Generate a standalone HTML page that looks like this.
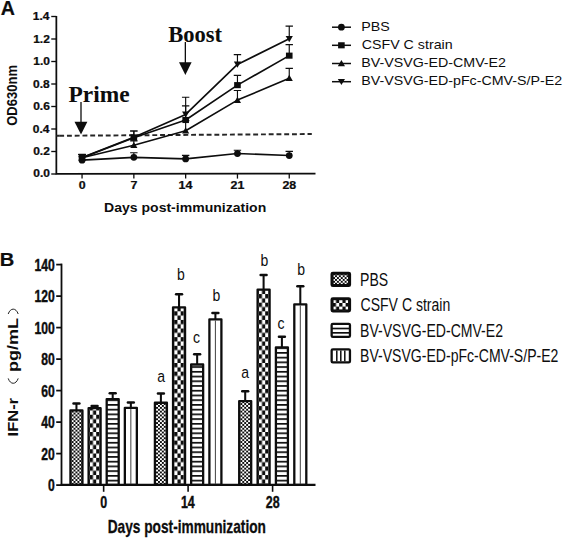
<!DOCTYPE html><html><head><meta charset="utf-8"><title>Figure</title><style>
html,body{margin:0;padding:0;background:#fff;}
svg{display:block;position:absolute;left:0;top:0;}
text{font-family:"Liberation Sans",sans-serif;fill:#0d0d0d;}
.b{font-weight:bold;}
.s{font-family:"Liberation Serif",serif;font-weight:bold;}
</style></head><body>
<svg width="567" height="539" viewBox="0 0 567 539">
<rect width="567" height="539" fill="#fff"/>
<defs><pattern id="q1" x="71.60" y="484.80" width="3.880" height="3.8" patternUnits="userSpaceOnUse"><rect width="3.880" height="3.8" fill="#0d0d0d"/><rect x="0" y="0" width="1.940" height="1.9" fill="#fff"/><rect x="1.940" y="1.9" width="1.940" height="1.9" fill="#fff"/></pattern><pattern id="q2" x="89.75" y="483.70" width="6.467" height="8.62" patternUnits="userSpaceOnUse"><rect width="6.467" height="8.62" fill="#fff"/><rect x="0" y="0" width="3.233" height="4.31" fill="#0d0d0d"/><rect x="3.233" y="4.31" width="3.233" height="4.31" fill="#0d0d0d"/></pattern><pattern id="q3" x="107.85" y="484.45" width="9.70" height="4.73" patternUnits="userSpaceOnUse"><rect width="9.70" height="4.73" fill="#fff"/><rect x="0" y="0" width="9.70" height="1.7" fill="#0d0d0d"/></pattern><pattern id="q4" x="156.05" y="484.80" width="3.880" height="3.8" patternUnits="userSpaceOnUse"><rect width="3.880" height="3.8" fill="#0d0d0d"/><rect x="0" y="0" width="1.940" height="1.9" fill="#fff"/><rect x="1.940" y="1.9" width="1.940" height="1.9" fill="#fff"/></pattern><pattern id="q5" x="174.20" y="483.70" width="6.467" height="8.62" patternUnits="userSpaceOnUse"><rect width="6.467" height="8.62" fill="#fff"/><rect x="0" y="0" width="3.233" height="4.31" fill="#0d0d0d"/><rect x="3.233" y="4.31" width="3.233" height="4.31" fill="#0d0d0d"/></pattern><pattern id="q6" x="192.30" y="484.45" width="9.70" height="4.73" patternUnits="userSpaceOnUse"><rect width="9.70" height="4.73" fill="#fff"/><rect x="0" y="0" width="9.70" height="1.7" fill="#0d0d0d"/></pattern><pattern id="q7" x="240.35" y="484.80" width="3.880" height="3.8" patternUnits="userSpaceOnUse"><rect width="3.880" height="3.8" fill="#0d0d0d"/><rect x="0" y="0" width="1.940" height="1.9" fill="#fff"/><rect x="1.940" y="1.9" width="1.940" height="1.9" fill="#fff"/></pattern><pattern id="q8" x="258.75" y="483.70" width="6.467" height="8.62" patternUnits="userSpaceOnUse"><rect width="6.467" height="8.62" fill="#fff"/><rect x="0" y="0" width="3.233" height="4.31" fill="#0d0d0d"/><rect x="3.233" y="4.31" width="3.233" height="4.31" fill="#0d0d0d"/></pattern><pattern id="q9" x="277.05" y="484.45" width="9.70" height="4.73" patternUnits="userSpaceOnUse"><rect width="9.70" height="4.73" fill="#fff"/><rect x="0" y="0" width="9.70" height="1.7" fill="#0d0d0d"/></pattern><pattern id="q10" x="333.10" y="275.25" width="3.850" height="3.74" patternUnits="userSpaceOnUse"><rect width="3.850" height="3.74" fill="#0d0d0d"/><rect x="0" y="0" width="1.925" height="1.87" fill="#fff"/><rect x="1.925" y="1.87" width="1.925" height="1.87" fill="#fff"/></pattern><pattern id="q11" x="332.80" y="303.02" width="6.400" height="7.133333333333333" patternUnits="userSpaceOnUse"><rect width="6.400" height="7.133333333333333" fill="#fff"/><rect x="0" y="0" width="3.200" height="3.5666666666666664" fill="#0d0d0d"/><rect x="3.200" y="3.5666666666666664" width="3.200" height="3.5666666666666664" fill="#0d0d0d"/></pattern><pattern id="q12" x="332.80" y="327.65" width="16.00" height="4.3" patternUnits="userSpaceOnUse"><rect width="16.00" height="4.3" fill="#fff"/><rect x="0" y="0" width="16.00" height="1.7" fill="#0d0d0d"/></pattern></defs>
<text class="b" stroke="#0d0d0d" stroke-width="0.2" transform="translate(0.73 14.85) scale(1.0125 1)" font-size="19.4">A</text>
<path d="M56.35 15.90V173.95L315.5 173.55" fill="none" stroke="#0d0d0d" stroke-width="1.75" stroke-linejoin="miter"/>
<path d="M51.25 174.00H56.35" stroke="#0d0d0d" stroke-width="1.35"/>
<text class="b" stroke="#0d0d0d" stroke-width="0.25" transform="translate(33.22 177.30) scale(1.1200 1)" font-size="10.7">0.0</text>
<path d="M51.25 151.50H56.35" stroke="#0d0d0d" stroke-width="1.35"/>
<text class="b" stroke="#0d0d0d" stroke-width="0.25" transform="translate(33.21 155.45) scale(1.1200 1)" font-size="10.7">0.2</text>
<path d="M51.25 129.00H56.35" stroke="#0d0d0d" stroke-width="1.35"/>
<text class="b" stroke="#0d0d0d" stroke-width="0.25" transform="translate(32.80 132.95) scale(1.1200 1)" font-size="10.7">0.4</text>
<path d="M51.25 106.50H56.35" stroke="#0d0d0d" stroke-width="1.35"/>
<text class="b" stroke="#0d0d0d" stroke-width="0.25" transform="translate(33.16 110.45) scale(1.1200 1)" font-size="10.7">0.6</text>
<path d="M51.25 84.00H56.35" stroke="#0d0d0d" stroke-width="1.35"/>
<text class="b" stroke="#0d0d0d" stroke-width="0.25" transform="translate(33.10 87.95) scale(1.1200 1)" font-size="10.7">0.8</text>
<path d="M51.25 61.50H56.35" stroke="#0d0d0d" stroke-width="1.35"/>
<text class="b" stroke="#0d0d0d" stroke-width="0.25" transform="translate(33.22 65.45) scale(1.1200 1)" font-size="10.7">1.0</text>
<path d="M51.25 39.00H56.35" stroke="#0d0d0d" stroke-width="1.35"/>
<text class="b" stroke="#0d0d0d" stroke-width="0.25" transform="translate(33.21 42.95) scale(1.1200 1)" font-size="10.7">1.2</text>
<path d="M51.25 16.50H56.35" stroke="#0d0d0d" stroke-width="1.35"/>
<text class="b" stroke="#0d0d0d" stroke-width="0.25" transform="translate(32.80 20.45) scale(1.1200 1)" font-size="10.7">1.4</text>
<path d="M82.05 174.0V178.6" stroke="#0d0d0d" stroke-width="1.3"/>
<text class="b" stroke="#0d0d0d" stroke-width="0.25" transform="translate(78.70 189.30) scale(1.1500 1)" font-size="10.8">0</text>
<path d="M133.85 174.0V178.6" stroke="#0d0d0d" stroke-width="1.3"/>
<text class="b" stroke="#0d0d0d" stroke-width="0.25" transform="translate(130.50 189.30) scale(1.1500 1)" font-size="10.8">7</text>
<path d="M185.65 174.0V178.6" stroke="#0d0d0d" stroke-width="1.3"/>
<text class="b" stroke="#0d0d0d" stroke-width="0.25" transform="translate(178.49 189.30) scale(1.1500 1)" font-size="10.8">14</text>
<path d="M237.45 174.0V178.6" stroke="#0d0d0d" stroke-width="1.3"/>
<text class="b" stroke="#0d0d0d" stroke-width="0.25" transform="translate(230.60 189.30) scale(1.1500 1)" font-size="10.8">21</text>
<path d="M289.25 174.0V178.6" stroke="#0d0d0d" stroke-width="1.3"/>
<text class="b" stroke="#0d0d0d" stroke-width="0.25" transform="translate(282.42 189.30) scale(1.1500 1)" font-size="10.8">28</text>
<text class="b" transform="translate(104.07 211.80) scale(1.1058 1)" font-size="12.7">Days post-immunization</text>
<text class="b" transform="translate(16.95 0) rotate(-90) translate(-125.83 0) scale(0.9308 1)" font-size="14.0">OD630nm</text>
<path d="M56.35 135.8L311.8 134.05" stroke="#262626" stroke-width="1.95" stroke-dasharray="4.9 2.86" stroke-dashoffset="-2.85" fill="none"/>
<path d="M56.35 135.8L59.3 135.78" stroke="#262626" stroke-width="1.95" fill="none"/>
<polyline points="82.05,160.16 133.85,157.35 185.65,158.93 237.45,153.53 289.25,155.55" fill="none" stroke="#0d0d0d" stroke-width="1.65" stroke-linejoin="round"/>
<path d="M82.05 160.16V156.79M78.35 156.79H85.75" stroke="#0d0d0d" stroke-width="1.15" fill="none"/>
<path d="M133.85 157.35V152.74M130.15 152.74H137.55" stroke="#0d0d0d" stroke-width="1.15" fill="none"/>
<path d="M185.65 158.93V155.44M181.95 155.44H189.35" stroke="#0d0d0d" stroke-width="1.15" fill="none"/>
<path d="M237.45 153.53V150.26M233.75 150.26H241.15" stroke="#0d0d0d" stroke-width="1.15" fill="none"/>
<path d="M289.25 155.55V151.39M285.55 151.39H292.95" stroke="#0d0d0d" stroke-width="1.15" fill="none"/>
<circle cx="82.05" cy="160.16" r="3.4" fill="#0d0d0d"/>
<circle cx="133.85" cy="157.35" r="3.4" fill="#0d0d0d"/>
<circle cx="185.65" cy="158.93" r="3.4" fill="#0d0d0d"/>
<circle cx="237.45" cy="153.53" r="3.4" fill="#0d0d0d"/>
<circle cx="289.25" cy="155.55" r="3.4" fill="#0d0d0d"/>
<polyline points="82.05,157.69 133.85,145.31 185.65,130.69 237.45,100.09 289.25,78.26" fill="none" stroke="#0d0d0d" stroke-width="1.65" stroke-linejoin="round"/>
<path d="M82.05 157.69V154.54M78.35 154.54H85.75" stroke="#0d0d0d" stroke-width="1.15" fill="none"/>
<path d="M133.85 145.31V140.81M130.15 140.81H137.55" stroke="#0d0d0d" stroke-width="1.15" fill="none"/>
<path d="M185.65 130.69V120.56M181.95 120.56H189.35" stroke="#0d0d0d" stroke-width="1.15" fill="none"/>
<path d="M237.45 100.09V90.53M233.75 90.53H241.15" stroke="#0d0d0d" stroke-width="1.15" fill="none"/>
<path d="M289.25 78.26V68.36M285.55 68.36H292.95" stroke="#0d0d0d" stroke-width="1.15" fill="none"/>
<path d="M78.45 160.49H85.65L82.05 154.29Z" fill="#0d0d0d"/>
<path d="M130.25 148.11H137.45L133.85 141.91Z" fill="#0d0d0d"/>
<path d="M182.05 133.49H189.25L185.65 127.29Z" fill="#0d0d0d"/>
<path d="M233.85 102.89H241.05L237.45 96.69Z" fill="#0d0d0d"/>
<path d="M285.65 81.06H292.85L289.25 74.86Z" fill="#0d0d0d"/>
<polyline points="82.05,157.69 133.85,137.78 185.65,120.00 237.45,85.12 289.25,55.65" fill="none" stroke="#0d0d0d" stroke-width="1.65" stroke-linejoin="round"/>
<path d="M82.05 157.69V154.54M78.35 154.54H85.75" stroke="#0d0d0d" stroke-width="1.15" fill="none"/>
<path d="M133.85 137.78V131.03M130.15 131.03H137.55" stroke="#0d0d0d" stroke-width="1.15" fill="none"/>
<path d="M185.65 120.00V105.94M181.95 105.94H189.35" stroke="#0d0d0d" stroke-width="1.15" fill="none"/>
<path d="M237.45 85.12V75.34M233.75 75.34H241.15" stroke="#0d0d0d" stroke-width="1.15" fill="none"/>
<path d="M289.25 55.65V44.62M285.55 44.62H292.95" stroke="#0d0d0d" stroke-width="1.15" fill="none"/>
<rect x="78.75" y="154.64" width="6.6" height="6.1" fill="#0d0d0d"/>
<rect x="130.55" y="134.72" width="6.6" height="6.1" fill="#0d0d0d"/>
<rect x="182.35" y="116.95" width="6.6" height="6.1" fill="#0d0d0d"/>
<rect x="234.15" y="82.08" width="6.6" height="6.1" fill="#0d0d0d"/>
<rect x="285.95" y="52.60" width="6.6" height="6.1" fill="#0d0d0d"/>
<polyline points="82.05,157.57 133.85,137.21 185.65,114.38 237.45,64.42 289.25,38.78" fill="none" stroke="#0d0d0d" stroke-width="1.65" stroke-linejoin="round"/>
<path d="M82.05 157.57V154.43M78.35 154.43H85.75" stroke="#0d0d0d" stroke-width="1.15" fill="none"/>
<path d="M133.85 137.21V131.03M130.15 131.03H137.55" stroke="#0d0d0d" stroke-width="1.15" fill="none"/>
<path d="M185.65 114.38V97.27M181.95 97.27H189.35" stroke="#0d0d0d" stroke-width="1.15" fill="none"/>
<path d="M237.45 64.42V54.64M233.75 54.64H241.15" stroke="#0d0d0d" stroke-width="1.15" fill="none"/>
<path d="M289.25 38.78V26.17M285.55 26.17H292.95" stroke="#0d0d0d" stroke-width="1.15" fill="none"/>
<path d="M78.45 154.77H85.65L82.05 160.97Z" fill="#0d0d0d"/>
<path d="M130.25 134.41H137.45L133.85 140.61Z" fill="#0d0d0d"/>
<path d="M182.05 111.58H189.25L185.65 117.78Z" fill="#0d0d0d"/>
<path d="M233.85 61.62H241.05L237.45 67.83Z" fill="#0d0d0d"/>
<path d="M285.65 35.98H292.85L289.25 42.18Z" fill="#0d0d0d"/>
<text class="s" transform="translate(68.50 102.00) scale(1.0423 1)" font-size="22.5">Prime</text>
<path d="M81 102V124" stroke="#0d0d0d" stroke-width="1.3"/><path d="M74.5 121.7H87.4L81 134.4Z" fill="#0d0d0d"/>
<text class="s" transform="translate(168.14 41.90) scale(0.9905 1)" font-size="22.8">Boost</text>
<path d="M185.35 42V64" stroke="#0d0d0d" stroke-width="1.3"/><path d="M179.0 62.2H191.6L185.35 75.0Z" fill="#0d0d0d"/>
<path d="M332 27.2H351" stroke="#0d0d0d" stroke-width="1.5"/>
<circle cx="341.40" cy="27.20" r="3.4" fill="#0d0d0d"/>
<text transform="translate(361.23 30.70) scale(1.1050 1)" font-size="12.9">PBS</text>
<path d="M332 45.3H351" stroke="#0d0d0d" stroke-width="1.5"/>
<rect x="338.10" y="42.25" width="6.6" height="6.1" fill="#0d0d0d"/>
<text transform="translate(361.69 48.80) scale(1.1050 1)" font-size="12.9">CSFV C strain</text>
<path d="M332 63.5H351" stroke="#0d0d0d" stroke-width="1.5"/>
<path d="M337.80 66.30H345.00L341.40 60.10Z" fill="#0d0d0d"/>
<text transform="translate(361.23 67.00) scale(1.1050 1)" font-size="12.9">BV-VSVG-ED-CMV-E2</text>
<path d="M332 81.7H351" stroke="#0d0d0d" stroke-width="1.5"/>
<path d="M337.80 78.90H345.00L341.40 85.10Z" fill="#0d0d0d"/>
<text transform="translate(361.23 85.20) scale(1.1050 1)" font-size="12.9">BV-VSVG-ED-pFc-CMV-S/P-E2</text>
<text class="b" stroke="#0d0d0d" stroke-width="0.2" transform="translate(-0.13 265.90) scale(1.0595 1)" font-size="19.0">B</text>
<path d="M61.5 263.60V484.8" fill="none" stroke="#0d0d0d" stroke-width="1.8"/>
<path d="M56.2 485.10H61.5" stroke="#0d0d0d" stroke-width="1.75"/>
<text class="b" stroke="#0d0d0d" stroke-width="0.45" transform="translate(48.03 491.20) scale(0.7150 1)" font-size="17.0">0</text>
<path d="M56.2 453.60H61.5" stroke="#0d0d0d" stroke-width="1.75"/>
<text class="b" stroke="#0d0d0d" stroke-width="0.45" transform="translate(41.27 459.70) scale(0.7150 1)" font-size="17.0">20</text>
<path d="M56.2 422.10H61.5" stroke="#0d0d0d" stroke-width="1.75"/>
<text class="b" stroke="#0d0d0d" stroke-width="0.45" transform="translate(41.27 428.20) scale(0.7150 1)" font-size="17.0">40</text>
<path d="M56.2 390.60H61.5" stroke="#0d0d0d" stroke-width="1.75"/>
<text class="b" stroke="#0d0d0d" stroke-width="0.45" transform="translate(41.27 396.70) scale(0.7150 1)" font-size="17.0">60</text>
<path d="M56.2 359.10H61.5" stroke="#0d0d0d" stroke-width="1.75"/>
<text class="b" stroke="#0d0d0d" stroke-width="0.45" transform="translate(41.27 365.20) scale(0.7150 1)" font-size="17.0">80</text>
<path d="M56.2 327.60H61.5" stroke="#0d0d0d" stroke-width="1.75"/>
<text class="b" stroke="#0d0d0d" stroke-width="0.45" transform="translate(34.51 333.70) scale(0.7150 1)" font-size="17.0">100</text>
<path d="M56.2 296.10H61.5" stroke="#0d0d0d" stroke-width="1.75"/>
<text class="b" stroke="#0d0d0d" stroke-width="0.45" transform="translate(34.51 302.20) scale(0.7150 1)" font-size="17.0">120</text>
<path d="M56.2 264.60H61.5" stroke="#0d0d0d" stroke-width="1.75"/>
<text class="b" stroke="#0d0d0d" stroke-width="0.45" transform="translate(34.51 270.70) scale(0.7150 1)" font-size="17.0">140</text>
<path d="M103.65 484.8V491.8" stroke="#0d0d0d" stroke-width="1.6"/>
<text class="b" stroke="#0d0d0d" stroke-width="0.4" transform="translate(100.29 507.60) scale(0.7200 1)" font-size="17.3">0</text>
<path d="M188.1 484.8V491.8" stroke="#0d0d0d" stroke-width="1.6"/>
<text class="b" stroke="#0d0d0d" stroke-width="0.4" transform="translate(180.92 507.60) scale(0.7200 1)" font-size="17.3">14</text>
<path d="M272.6 484.8V491.8" stroke="#0d0d0d" stroke-width="1.6"/>
<text class="b" stroke="#0d0d0d" stroke-width="0.4" transform="translate(265.75 507.60) scale(0.7200 1)" font-size="17.3">28</text>
<text class="b" stroke="#0d0d0d" stroke-width="0.3" transform="translate(107.70 533.40) scale(0.7529 1)" font-size="18.2">Days post-immunization</text>
<text class="b" transform="translate(18.20 0) rotate(-90) translate(-436.39 0) scale(1.0978 1)" font-size="15.0">IFN-r</text>
<text class="b" transform="translate(18.20 0) rotate(-90) translate(-371.97 0) scale(1.2002 1)" font-size="15.0">pg/mL</text>
<path d="M8.2 378.4C10.4 384.9 16 384.9 18.2 378.4" fill="none" stroke="#222" stroke-width="1"/>
<path d="M8.2 314.0C10.4 307.5 16 307.5 18.2 314.0" fill="none" stroke="#222" stroke-width="1"/>
<path d="M76.45 410.25V403.60" stroke="#0d0d0d" stroke-width="2.05"/><path d="M73.50 403.60H79.40" stroke="#0d0d0d" stroke-width="2.5" stroke-linecap="round"/>
<rect x="70.45" y="410.40" width="12.00" height="74.40" fill="url(#q1)" stroke="#0d0d0d" stroke-width="2.3" stroke-linejoin="round"/>
<path d="M94.60 408.00V406.00" stroke="#0d0d0d" stroke-width="2.05"/><path d="M91.65 406.00H97.55" stroke="#0d0d0d" stroke-width="2.5" stroke-linecap="round"/>
<rect x="88.60" y="408.15" width="12.00" height="76.65" fill="url(#q2)" stroke="#0d0d0d" stroke-width="2.3" stroke-linejoin="round"/>
<path d="M112.70 398.95V393.35" stroke="#0d0d0d" stroke-width="2.05"/><path d="M109.75 393.35H115.65" stroke="#0d0d0d" stroke-width="2.5" stroke-linecap="round"/>
<rect x="106.70" y="399.10" width="12.00" height="85.70" fill="url(#q3)" stroke="#0d0d0d" stroke-width="2.3" stroke-linejoin="round"/>
<path d="M130.85 407.70V402.50" stroke="#0d0d0d" stroke-width="2.05"/><path d="M127.90 402.50H133.80" stroke="#0d0d0d" stroke-width="2.5" stroke-linecap="round"/>
<rect x="124.85" y="407.85" width="12.00" height="76.95" fill="#fff" stroke="#0d0d0d" stroke-width="2.3" stroke-linejoin="round"/>
<path d="M130.85 409.00V483.80" stroke="#2a2a2a" stroke-width="0.9"/>
<path d="M160.90 402.60V393.45" stroke="#0d0d0d" stroke-width="2.05"/><path d="M157.95 393.45H163.85" stroke="#0d0d0d" stroke-width="2.5" stroke-linecap="round"/>
<rect x="154.90" y="402.75" width="12.00" height="82.05" fill="url(#q4)" stroke="#0d0d0d" stroke-width="2.3" stroke-linejoin="round"/>
<path d="M179.05 307.20V294.20" stroke="#0d0d0d" stroke-width="2.05"/><path d="M176.10 294.20H182.00" stroke="#0d0d0d" stroke-width="2.5" stroke-linecap="round"/>
<rect x="173.05" y="307.35" width="12.00" height="177.45" fill="url(#q5)" stroke="#0d0d0d" stroke-width="2.3" stroke-linejoin="round"/>
<path d="M197.15 364.35V354.20" stroke="#0d0d0d" stroke-width="2.05"/><path d="M194.20 354.20H200.10" stroke="#0d0d0d" stroke-width="2.5" stroke-linecap="round"/>
<rect x="191.15" y="364.50" width="12.00" height="120.30" fill="url(#q6)" stroke="#0d0d0d" stroke-width="2.3" stroke-linejoin="round"/>
<path d="M215.40 319.20V313.10" stroke="#0d0d0d" stroke-width="2.05"/><path d="M212.45 313.10H218.35" stroke="#0d0d0d" stroke-width="2.5" stroke-linecap="round"/>
<rect x="209.40" y="319.35" width="12.00" height="165.45" fill="#fff" stroke="#0d0d0d" stroke-width="2.3" stroke-linejoin="round"/>
<path d="M215.40 320.50V483.80" stroke="#2a2a2a" stroke-width="0.9"/>
<path d="M245.20 400.90V391.20" stroke="#0d0d0d" stroke-width="2.05"/><path d="M242.25 391.20H248.15" stroke="#0d0d0d" stroke-width="2.5" stroke-linecap="round"/>
<rect x="239.20" y="401.05" width="12.00" height="83.75" fill="url(#q7)" stroke="#0d0d0d" stroke-width="2.3" stroke-linejoin="round"/>
<path d="M263.60 289.40V275.05" stroke="#0d0d0d" stroke-width="2.05"/><path d="M260.65 275.05H266.55" stroke="#0d0d0d" stroke-width="2.5" stroke-linecap="round"/>
<rect x="257.60" y="289.55" width="12.00" height="195.25" fill="url(#q8)" stroke="#0d0d0d" stroke-width="2.3" stroke-linejoin="round"/>
<path d="M281.90 347.20V336.70" stroke="#0d0d0d" stroke-width="2.05"/><path d="M278.95 336.70H284.85" stroke="#0d0d0d" stroke-width="2.5" stroke-linecap="round"/>
<rect x="275.90" y="347.35" width="12.00" height="137.45" fill="url(#q9)" stroke="#0d0d0d" stroke-width="2.3" stroke-linejoin="round"/>
<path d="M300.30 304.20V286.20" stroke="#0d0d0d" stroke-width="2.05"/><path d="M297.35 286.20H303.25" stroke="#0d0d0d" stroke-width="2.5" stroke-linecap="round"/>
<rect x="294.30" y="304.35" width="12.00" height="180.45" fill="#fff" stroke="#0d0d0d" stroke-width="2.3" stroke-linejoin="round"/>
<path d="M300.30 305.50V483.80" stroke="#2a2a2a" stroke-width="0.9"/>
<path d="M60.6 484.8H315.5" fill="none" stroke="#0d0d0d" stroke-width="2.2"/>
<text transform="translate(157.20 382.10) scale(0.8400 1)" font-size="16.7">a</text>
<text transform="translate(176.94 280.40) scale(0.8400 1)" font-size="16.7">b</text>
<text transform="translate(192.98 342.50) scale(0.8400 1)" font-size="16.7">c</text>
<text transform="translate(212.54 301.00) scale(0.8400 1)" font-size="16.7">b</text>
<text transform="translate(241.20 378.20) scale(0.8400 1)" font-size="16.7">a</text>
<text transform="translate(260.54 266.30) scale(0.8400 1)" font-size="16.7">b</text>
<text transform="translate(277.58 328.70) scale(0.8400 1)" font-size="16.7">c</text>
<text transform="translate(297.34 274.50) scale(0.8400 1)" font-size="16.7">b</text>
<rect x="331.65" y="272.90" width="18.30" height="13.00" rx="1.2" fill="url(#q10)" stroke="#0d0d0d" stroke-width="2.3"/>
<rect x="332.90" y="274.15" width="15.80" height="10.50" fill="none" stroke="#0d0d0d" stroke-width="1.3"/>
<text transform="translate(360.05 285.70) scale(0.7600 1)" font-size="18.5">PBS</text>
<rect x="331.65" y="298.30" width="18.30" height="13.00" rx="1.2" fill="url(#q11)" stroke="#0d0d0d" stroke-width="2.3"/>
<rect x="332.90" y="299.55" width="15.80" height="10.50" fill="none" stroke="#0d0d0d" stroke-width="1.3"/>
<text transform="translate(360.50 311.10) scale(0.7600 1)" font-size="18.5">CSFV C strain</text>
<rect x="331.65" y="323.90" width="18.30" height="13.00" rx="1.2" fill="url(#q12)" stroke="#0d0d0d" stroke-width="2.3"/>
<text transform="translate(360.05 336.70) scale(0.7600 1)" font-size="18.5">BV-VSVG-ED-CMV-E2</text>
<rect x="331.65" y="349.40" width="18.30" height="13.00" rx="1.2" fill="#fff" stroke="#0d0d0d" stroke-width="2.3"/>
<path d="M336.80 350.55V361.25" stroke="#0d0d0d" stroke-width="1.5"/>
<path d="M340.80 350.55V361.25" stroke="#0d0d0d" stroke-width="1.5"/>
<path d="M344.80 350.55V361.25" stroke="#0d0d0d" stroke-width="1.5"/>
<text transform="translate(360.05 362.20) scale(0.7600 1)" font-size="18.5">BV-VSVG-ED-pFc-CMV-S/P-E2</text>
</svg></body></html>
